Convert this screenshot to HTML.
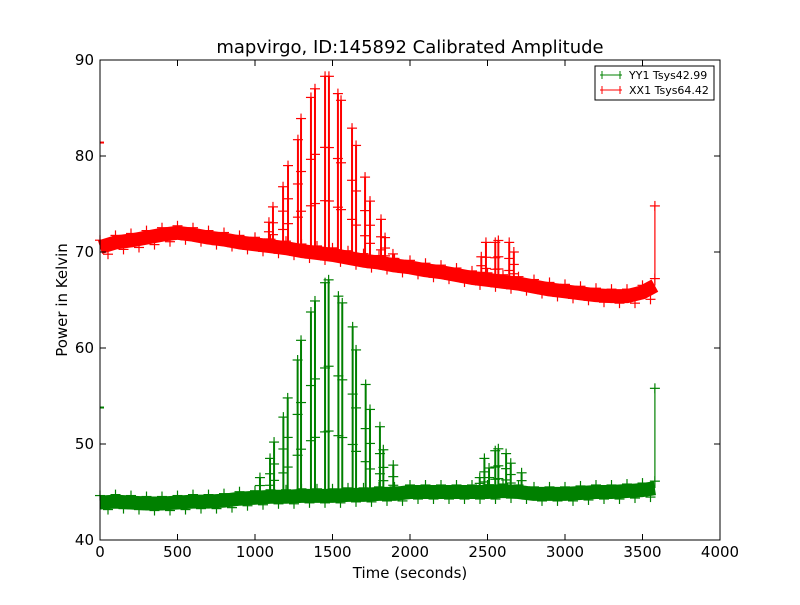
<!DOCTYPE html>
<html><head><meta charset="utf-8"><style>
body{margin:0;background:#fff;}
svg text{font-family:"DejaVu Sans","Liberation Sans",sans-serif;}
</style></head><body>
<svg id="chart" width="800" height="600" xmlns="http://www.w3.org/2000/svg">
<rect width="800" height="600" fill="#fff"/>
<text x="410" y="53" text-anchor="middle" font-size="18">mapvirgo, ID:145892 Calibrated Amplitude</text>
<g id="marks"></g>
<rect x="100" y="60" width="620" height="480" fill="none" stroke="#000" stroke-width="1"/>
<g id="axes"></g>
<text x="410" y="578" text-anchor="middle" font-size="15">Time (seconds)</text>
<text transform="translate(67,300) rotate(-90)" text-anchor="middle" font-size="15">Power in Kelvin</text>
<g>
<rect x="595" y="66" width="119" height="34" fill="#fff" stroke="#000" stroke-width="1"/>
<g>
<line x1="600" y1="75" x2="622" y2="75" stroke="green"/><line x1="602" y1="71" x2="602" y2="79" stroke="green"/><line x1="620" y1="71" x2="620" y2="79" stroke="green"/>
<text x="629" y="79" font-size="11">YY1 Tsys42.99</text></g>
<g>
<line x1="600" y1="90" x2="622" y2="90" stroke="red"/><line x1="602" y1="86" x2="602" y2="94" stroke="red"/><line x1="620" y1="86" x2="620" y2="94" stroke="red"/>
<text x="629" y="94" font-size="11">XX1 Tsys64.42</text></g>
</g>
</svg>
<script>
const xTicks=[0,500,1000,1500,2000,2500,3000,3500,4000];
const yTicks=[40,50,60,70,80,90];
const baseTimes=[0,100,200,300,400,500,600,700,800,900,1000,1100,1200,1300,1400,1500,1600,1700,1800,1900,2000,2100,2200,2300,2400,2500,2600,2700,2800,2900,3000,3100,3200,3300,3400,3500,3580];
const xxBase=[70.5,71,71.2,71.5,71.8,72,71.8,71.5,71.3,71,70.8,70.6,70.4,70.1,69.9,69.7,69.4,69.1,68.9,68.6,68.4,68.1,67.9,67.6,67.3,67.1,66.9,66.7,66.4,66.1,65.9,65.7,65.5,65.4,65.4,65.8,66.5];
const yyBase=[43.9,44,43.9,43.8,43.8,43.9,44,44,44.1,44.3,44.4,44.5,44.5,44.6,44.6,44.6,44.7,44.7,44.8,44.8,45,45,45,45,45,45,45.1,45,44.8,44.8,44.8,44.9,45,45,45.1,45.2,45.4];
const xxSpikeTimes=[1090,1116,1181,1213,1277,1297,1361,1387,1452,1477,1535,1555,1626,1652,1710,1742,1813,1839,1890,2460,2490,2550,2570,2640,2670];
const xxSpikePeaks=[73.1,74.7,76.8,79.0,81.7,83.9,86.1,87.0,88.3,88.3,86.5,85.8,82.9,81.1,77.8,75.3,73.4,71.5,69.8,69.5,71,71,71.2,71,70];
const yySpikeTimes=[1032,1097,1123,1183,1211,1275,1297,1361,1387,1452,1475,1538,1563,1630,1652,1714,1742,1806,1828,1892,2450,2480,2510,2550,2570,2620,2650,2720];
const yySpikePeaks=[46.5,48.5,50.2,52.8,54.8,58.75,60.8,63.75,64.9,66.8,67.1,65.4,64.7,62.2,59.8,56.2,53.6,51.8,49.4,47.8,46.5,48.5,47.5,49.3,49.5,49,48,47];
const endTime=3580, xxEnd=74.8, yyEnd=55.8;
const startPts={xx:81.4,yy:53.8};

const NS='http://www.w3.org/2000/svg';
const X=t=>100+t*620/4000;
const Y=v=>540-(v-40)*480/50;
function mk(tag,attrs,parent){const e=document.createElementNS(NS,tag);for(const k in attrs)e.setAttribute(k,attrs[k]);parent.appendChild(e);return e;}
const axes=document.getElementById('axes'), marks=document.getElementById('marks');
xTicks.forEach(t=>{
  const g=mk('g',{},axes);
  
  
  mk('line',{x1:X(t),x2:X(t),y1:540,y2:534,stroke:'#000'},g);
  mk('line',{x1:X(t),x2:X(t),y1:60,y2:66,stroke:'#000'},g);
  const tx=mk('text',{x:X(t),y:557,'text-anchor':'middle','font-size':15},g);tx.textContent=t;
});
yTicks.forEach(v=>{
  const g=mk('g',{},axes);
  
  
  mk('line',{x1:100,x2:106,y1:Y(v),y2:Y(v),stroke:'#000'},g);
  mk('line',{x1:720,x2:714,y1:Y(v),y2:Y(v),stroke:'#000'},g);
  const tx=mk('text',{x:94,y:Y(v)+5,'text-anchor':'end','font-size':15},g);tx.textContent=v;
});
function baseAt(arr,t){for(let i=0;i<baseTimes.length-1;i++){if(t<=baseTimes[i+1]){const f=(t-baseTimes[i])/(baseTimes[i+1]-baseTimes[i]);return arr[i]+f*(arr[i+1]-arr[i]);}}return arr[arr.length-1];}
function plus(g,x,y,c){mk('line',{x1:x-5,x2:x+5,y1:y,y2:y,stroke:c,'stroke-width':1.2},g);mk('line',{x1:x,x2:x,y1:y-5,y2:y+5,stroke:c,'stroke-width':1.2},g);}
function series(name,base,sT,sP,endV,startV,c){
  const g=mk('g',{},marks);
  
  
  const d=baseTimes.map((t,i)=>(i?'L':'M')+X(t)+' '+Y(base[i])).join(' ');
  const band=mk('path',{d:d,fill:'none',stroke:c,'stroke-width':14,'stroke-linejoin':'round'},g);
  
  
  baseTimes.forEach((t,i)=>{plus(g,X(t),Y(base[i])-7,c);if(i<baseTimes.length-1)plus(g,X(t)+8,Y(base[i])+7,c);});
  sT.forEach((t,i)=>{
    const s=mk('g',{},g);
    
    
    const b=baseAt(base,t);
    mk('line',{x1:X(t),x2:X(t),y1:Y(b),y2:Y(sP[i]),stroke:c,'stroke-width':2},s);
    plus(s,X(t),Y(sP[i]),c);
    plus(s,X(t),Y(b+(sP[i]-b)*0.6),c);
    plus(s,X(t),Y(b+(sP[i]-b)*0.3),c);
  });
  const e=mk('g',{},g);
  
  
  mk('line',{x1:X(endTime),x2:X(endTime),y1:Y(baseAt(base,endTime)),y2:Y(endV),stroke:c,'stroke-width':1.2},e);
  plus(e,X(endTime),Y(endV),c);
  const s0=mk('line',{x1:100,x2:104,y1:Y(startV),y2:Y(startV),stroke:c,'stroke-width':2},g);
  
  
}
series('xx1',xxBase,xxSpikeTimes,xxSpikePeaks,xxEnd,startPts.xx,'red');
series('yy1',yyBase,yySpikeTimes,yySpikePeaks,yyEnd,startPts.yy,'green');
</script>
</body></html>
